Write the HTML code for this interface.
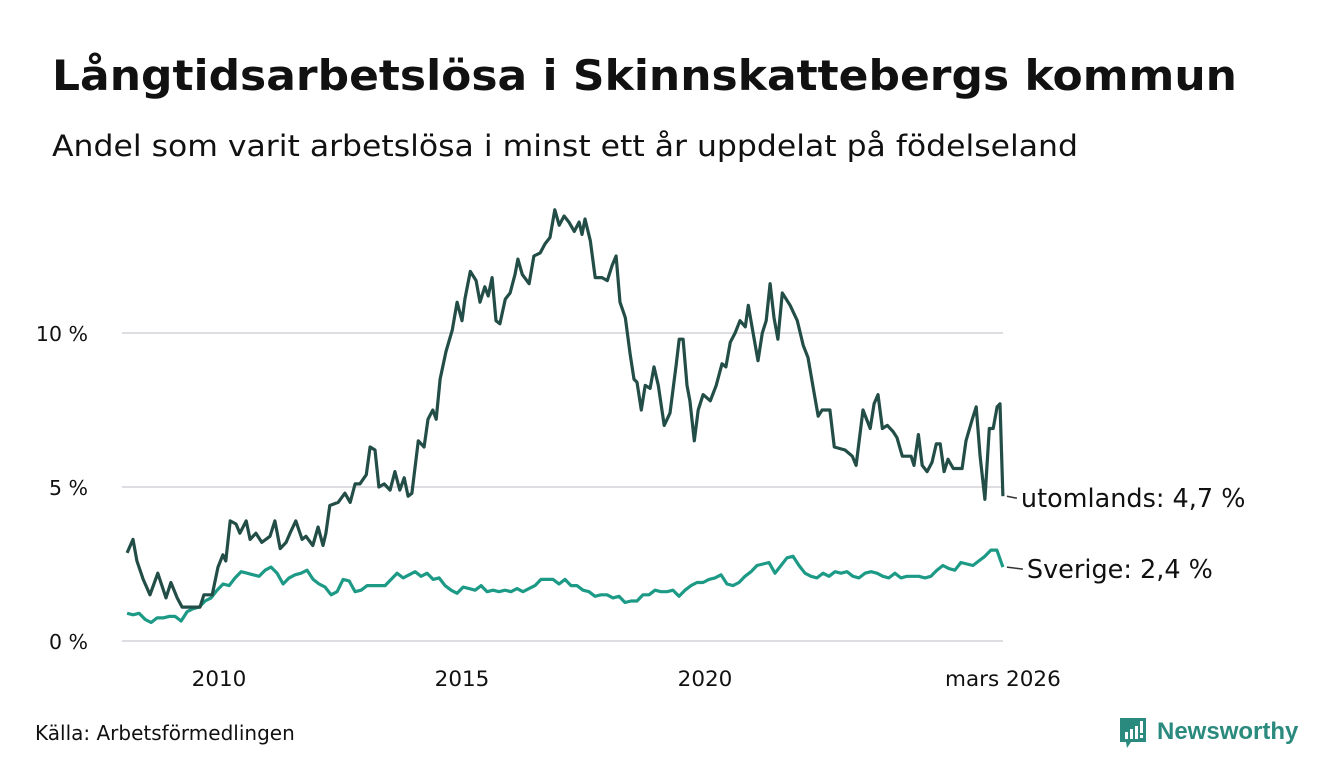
<!DOCTYPE html>
<html><head><meta charset="utf-8"><style>
html,body{margin:0;padding:0;background:#fff;}
svg{display:block;font-family:"DejaVu Sans","Liberation Sans",sans-serif;}
</style></head><body>
<svg id="chart" width="1340" height="780" viewBox="0 0 1340 780">
<text x="52" y="90" font-size="42" font-weight="bold" fill="#111" textLength="1185" lengthAdjust="spacingAndGlyphs">Långtidsarbetslösa i Skinnskattebergs kommun</text>
<text x="52" y="156" font-size="29" fill="#111" textLength="1026" lengthAdjust="spacingAndGlyphs">Andel som varit arbetslösa i minst ett år uppdelat på födelseland</text>
<g id="grid"></g>
<g id="series"></g>
<g id="labels"></g>
<text x="35" y="740" font-size="20" fill="#111">Källa: Arbetsförmedlingen</text>
<g>
<path d="M1120 718 h26 v24 h-15 l-4 6 l-1 -6 h-6 z" fill="#2a8a7d"/>
<rect x="1125" y="732" width="3" height="7" fill="#fff"/><rect x="1130" y="729" width="3" height="10" fill="#fff"/><rect x="1135" y="726" width="3" height="13" fill="#fff"/><rect x="1140" y="721" width="3" height="12" fill="#fff"/><rect x="1140" y="735" width="3" height="3" fill="#fff"/>
<text x="1157" y="739" font-size="24" font-weight="bold" fill="#2a8a7d" font-family="Liberation Sans, sans-serif">Newsworthy</text>
</g>
</svg>
<script>
const yTicks=[0,5,10];
const yTickLabels=["0 %","5 %","10 %"];
const xTicks=[2010,2015,2020,2026.13];
const xTickLabels=["2010","2015","2020","mars 2026"];
const utlT=[2008.11,2008.23,2008.31,2008.44,2008.58,2008.74,2008.91,2009.01,2009.14,2009.24,2009.61,2009.69,2009.86,2009.98,2010.08,2010.14,2010.23,2010.35,2010.43,2010.56,2010.64,2010.76,2010.88,2011.05,2011.15,2011.26,2011.38,2011.46,2011.58,2011.71,2011.79,2011.93,2012.04,2012.14,2012.20,2012.28,2012.45,2012.59,2012.70,2012.80,2012.90,2013.03,2013.11,2013.21,2013.29,2013.40,2013.52,2013.62,2013.72,2013.81,2013.89,2013.97,2014.10,2014.22,2014.30,2014.40,2014.47,2014.55,2014.67,2014.80,2014.90,2015.00,2015.06,2015.17,2015.29,2015.37,2015.47,2015.54,2015.62,2015.70,2015.78,2015.89,2015.99,2016.09,2016.15,2016.24,2016.38,2016.48,2016.61,2016.71,2016.81,2016.91,2017.00,2017.10,2017.20,2017.31,2017.41,2017.47,2017.53,2017.64,2017.74,2017.88,2017.99,2018.09,2018.17,2018.25,2018.36,2018.46,2018.54,2018.60,2018.69,2018.77,2018.87,2018.95,2019.04,2019.16,2019.28,2019.41,2019.47,2019.55,2019.63,2019.69,2019.78,2019.86,2019.96,2020.11,2020.23,2020.35,2020.43,2020.52,2020.62,2020.72,2020.83,2020.89,2020.99,2021.09,2021.18,2021.26,2021.34,2021.42,2021.50,2021.59,2021.75,2021.90,2022.02,2022.12,2022.25,2022.33,2022.41,2022.57,2022.66,2022.88,2023.03,2023.11,2023.25,2023.40,2023.48,2023.56,2023.65,2023.75,2023.87,2023.95,2024.06,2024.24,2024.30,2024.39,2024.47,2024.57,2024.67,2024.76,2024.84,2024.92,2025.00,2025.11,2025.29,2025.37,2025.50,2025.58,2025.66,2025.76,2025.85,2025.93,2026.01,2026.07,2026.13];
const utlV=[2.86,3.3,2.6,2.0,1.5,2.2,1.4,1.9,1.4,1.1,1.1,1.5,1.5,2.4,2.8,2.6,3.9,3.8,3.5,3.9,3.3,3.5,3.2,3.4,3.9,3.0,3.2,3.5,3.9,3.3,3.4,3.1,3.7,3.1,3.5,4.4,4.5,4.8,4.5,5.1,5.1,5.4,6.3,6.2,5.0,5.1,4.9,5.5,4.9,5.3,4.7,4.8,6.5,6.3,7.2,7.5,7.2,8.5,9.4,10.1,11.0,10.4,11.1,12.0,11.7,11.0,11.5,11.2,11.8,10.4,10.3,11.1,11.3,11.9,12.4,11.9,11.6,12.5,12.6,12.9,13.1,14.0,13.5,13.8,13.6,13.3,13.6,13.2,13.7,13.0,11.8,11.8,11.7,12.2,12.5,11.0,10.5,9.3,8.5,8.4,7.5,8.3,8.2,8.9,8.3,7.0,7.4,9.0,9.8,9.8,8.3,7.8,6.5,7.5,8.0,7.8,8.3,9.0,8.9,9.7,10.0,10.4,10.2,10.9,10.0,9.1,10.0,10.4,11.6,10.5,9.8,11.3,10.9,10.4,9.6,9.2,8.0,7.3,7.5,7.5,6.3,6.2,6.0,5.7,7.5,6.9,7.7,8.0,6.9,7.0,6.8,6.6,6.0,6.0,5.7,6.7,5.7,5.5,5.8,6.4,6.4,5.5,5.9,5.6,5.6,6.5,7.2,7.6,6.0,4.6,6.9,6.9,7.6,7.7,4.7];
const sveStart=2008.11, sveEnd=2026.13;
const sveV=[0.9,0.85,0.9,0.7,0.6,0.75,0.75,0.8,0.8,0.65,0.95,1.05,1.1,1.3,1.4,1.65,1.85,1.8,2.05,2.25,2.2,2.15,2.1,2.3,2.4,2.2,1.85,2.05,2.15,2.2,2.3,2.0,1.85,1.75,1.5,1.6,2.0,1.95,1.6,1.65,1.8,1.8,1.8,1.8,2.0,2.2,2.05,2.15,2.25,2.1,2.2,2.0,2.05,1.8,1.65,1.55,1.75,1.7,1.65,1.8,1.6,1.65,1.6,1.65,1.6,1.7,1.6,1.7,1.8,2.0,2.0,2.0,1.85,2.0,1.8,1.8,1.65,1.6,1.45,1.5,1.5,1.4,1.45,1.25,1.3,1.3,1.5,1.5,1.65,1.6,1.6,1.65,1.45,1.65,1.8,1.9,1.9,2.0,2.05,2.15,1.85,1.8,1.9,2.1,2.25,2.45,2.5,2.55,2.2,2.45,2.7,2.75,2.45,2.2,2.1,2.05,2.2,2.1,2.25,2.2,2.25,2.1,2.05,2.2,2.25,2.2,2.1,2.05,2.2,2.05,2.1,2.1,2.1,2.05,2.1,2.3,2.45,2.35,2.3,2.55,2.5,2.45,2.6,2.75,2.95,2.95,2.4];

const NS="http://www.w3.org/2000/svg";
const x=t=>219+(t-2010)*48.6;
const y=v=>641-v*30.8;
function mk(tag,attrs,parent){const e=document.createElementNS(NS,tag);for(const k in attrs)e.setAttribute(k,attrs[k]);parent.appendChild(e);return e;}
const grid=document.getElementById('grid'),series=document.getElementById('series'),labels=document.getElementById('labels');
yTicks.forEach((v,i)=>{
  const l=mk('line',{x1:122,x2:1003,y1:y(v),y2:y(v),stroke:'#dddde2','stroke-width':2},grid);
  
  
  const t=mk('text',{x:88,y:y(v)+8,'font-size':20.5,'text-anchor':'end',fill:'#111'},labels);
  t.textContent=yTickLabels[i];
  
  
});
xTicks.forEach((v,i)=>{
  const t=mk('text',{x:x(v),y:686,'font-size':21.5,'text-anchor':'middle',fill:'#111'},labels);
  t.textContent=xTickLabels[i];
  
  
});
const sveT=sveV.map((_,i)=>sveStart+(sveEnd-sveStart)*i/(sveV.length-1));
function line(ts,vs,color,name){
  const p=mk('path',{d:ts.map((t,i)=>(i?'L':'M')+x(t).toFixed(1)+' '+y(vs[i]).toFixed(1)).join(''),fill:'none',stroke:color,'stroke-width':3.2,'stroke-linejoin':'round'},series);
  
  
}
line(sveT,sveV,'#1c9a86','line-sverige');
line(utlT,utlV,'#234d47','line-utomlands');
function endLabel(t,v,txt,name,dx){
  const ly=y(v)+2;
  const l=mk('line',{x1:x(t)+4,x2:x(t)+dx-4,y1:y(v),y2:ly,stroke:'#333','stroke-width':1.5},labels);
  
  
  const tx=mk('text',{x:x(t)+dx,y:ly+9,'font-size':25.5,fill:'#111'},labels);
  tx.textContent=txt;
  
  
}
endLabel(utlT[utlT.length-1],utlV[utlV.length-1],'utomlands: 4,7 %','label-utomlands',18);
endLabel(sveEnd,sveV[sveV.length-1],'Sverige: 2,4 %','label-sverige',24);
</script>
</body></html>
